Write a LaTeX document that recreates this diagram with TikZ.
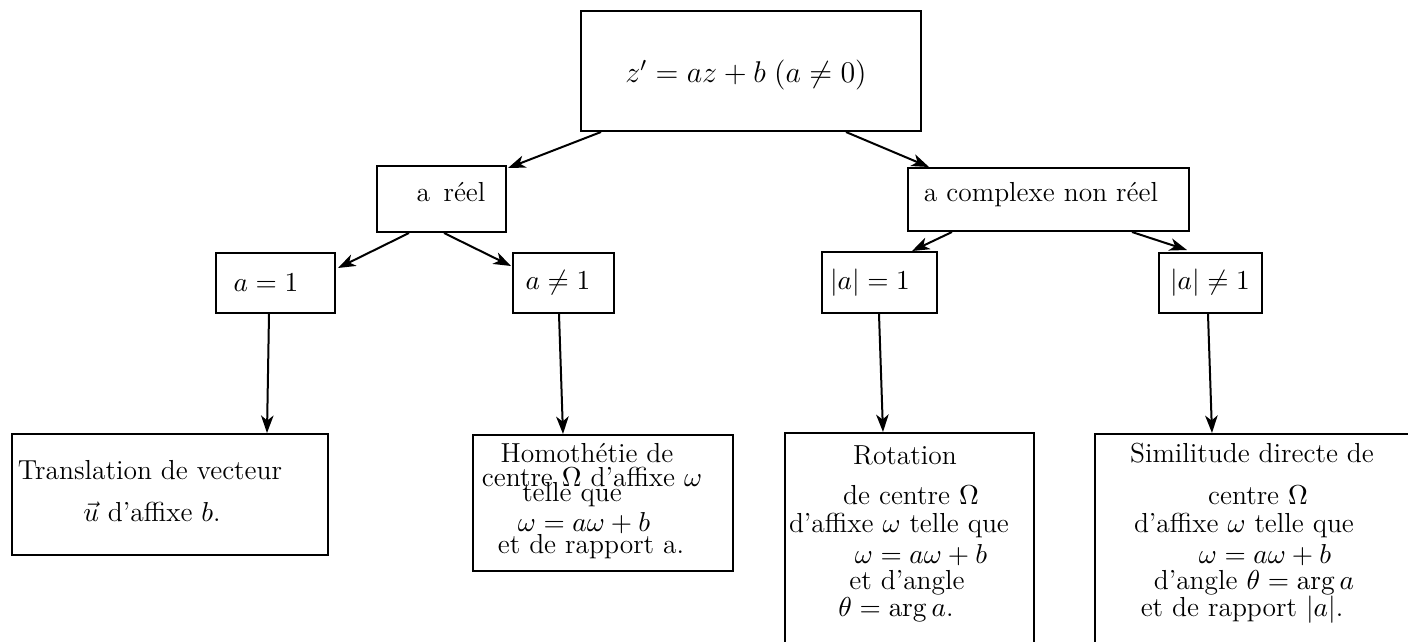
\documentclass[tikz,border=0pt]{standalone}
\usetikzlibrary{calc,arrows.meta}
\begin{document}
\begin{tikzpicture}[x=0.4pt,y=-0.4pt,
  box/.style={draw,line width=0.8pt,inner sep=0pt},
  txt/.style={inner sep=0pt,font=\fontsize{11}{13}\selectfont},
  arr/.style={line width=0.8pt,-{Stealth[length=7pt,width=5pt,inset=2pt]}}]
\useasboundingbox (0,0) rectangle (1408,641);
% boxes
\node[box,minimum width=136pt,minimum height=48pt] (top) at (751,71) {};
\node[box,minimum width=51.6pt,minimum height=26.4pt] (areel) at (441.5,199) {};
\node[box,minimum width=47.6pt,minimum height=24pt] (a1) at (275.5,283) {};
\node[box,minimum width=40.4pt,minimum height=24pt] (aneq1) at (563.5,283) {};
\node[box,minimum width=112.4pt,minimum height=25.2pt] (complexe) at (1048.5,199.5) {};
\node[box,minimum width=46pt,minimum height=24.4pt] (abs1) at (879.5,282.5) {};
\node[box,minimum width=41.2pt,minimum height=24pt] (absneq1) at (1210.5,283) {};
\node[box,minimum width=126.4pt,minimum height=48.4pt] (trans) at (170,494.5) {};
\node[box,minimum width=104pt,minimum height=54.4pt] (homo) at (603,503) {};
\node[box,minimum width=99.6pt,minimum height=90.8pt] (rot) at (909.5,546.5) {};
\node[box,minimum width=128pt,minimum height=90.4pt] (sim) at (1255,547) {};
% texts
\node[txt,font=\fontsize{12}{14}\selectfont] (ttop) at (746,75) {$z' = az + b\;(a \neq 0)$};
\node[txt] (treel) at (451,192) {a\, réel};
\node[txt] (ta1) at (266,283) {$a = 1$};
\node[txt] (taneq1) at (558,283) {$a \neq 1$};
\node[txt] (tcomp) at (1041,195) {a complexe non réel};
\node[txt] (tabs1) at (870,283) {$|a| = 1$};
\node[txt] (tabsneq1) at (1210,283) {$|a| \neq 1$};
\node[txt] (trans1) at (150,470) {Translation de vecteur};
\node[txt] (trans2) at (152,512) {$\vec{u}$ d'affixe $b$.};
\node[txt] (homo1) at (587,453) {Homothétie de};
\node[txt] (homo2) at (592,477) {centre $\Omega$ d'affixe $\omega$};
\node[txt] (homo3) at (572,495) {telle que};
\node[txt] (homo4) at (584,523) {$\omega = a\omega + b$};
\node[txt] (homo5) at (591,547) {et de rapport a.};
\node[txt] (rot1) at (905,455) {Rotation};
\node[txt] (rot2) at (911,495) {de centre $\Omega$};
\node[txt] (rot3) at (899,525) {d'affixe $\omega$ telle que};
\node[txt] (rot4) at (921,555) {$\omega = a\omega + b$};
\node[txt] (rot5) at (907,583) {et d'angle};
\node[txt] (rot6) at (896,610) {$\theta = \arg a$.};
\node[txt] (sim1) at (1252,453) {Similitude directe de};
\node[txt] (sim2) at (1258,495) {centre $\Omega$};
\node[txt] (sim3) at (1244,525) {d'affixe $\omega$ telle que};
\node[txt] (sim4) at (1265,555) {$\omega = a\omega + b$};
\node[txt] (sim5) at (1254,583) {d'angle $\theta = \arg a$};
\node[txt] (sim6) at (1242,610) {et de rapport $|a|$.};
% connectors
\draw[arr] ($(top.south west)+(21,0)$) -- ($(areel.north east)+(1,3)$);
\draw[arr] ($(top.south west)+(266,0)$) -- ($(complexe.north west)+(22,0)$);
\draw[arr] ($(areel.south west)+(33,0)$) -- ($(a1.north east)+(2,16)$);
\draw[arr] ($(areel.south west)+(68,0)$) -- ($(aneq1.north west)+(-1,14)$);
\draw[arr] ($(complexe.south west)+(45,0)$) -- ($(abs1.north west)+(91,0)$);
\draw[arr] ($(complexe.south west)+(225,0)$) -- ($(absneq1.north west)+(29,-2)$);
\draw[arr] ($(a1.south west)+(54,0)$) -- ($(trans.north west)+(256,0)$);
\draw[arr] ($(aneq1.south west)+(47,0)$) -- ($(homo.north west)+(91,0)$);
\draw[arr] ($(abs1.south west)+(58,0)$) -- ($(rot.north west)+(99,0)$);
\draw[arr] ($(absneq1.south west)+(50,0)$) -- ($(sim.north west)+(118,0)$);
\end{tikzpicture}
\end{document}
